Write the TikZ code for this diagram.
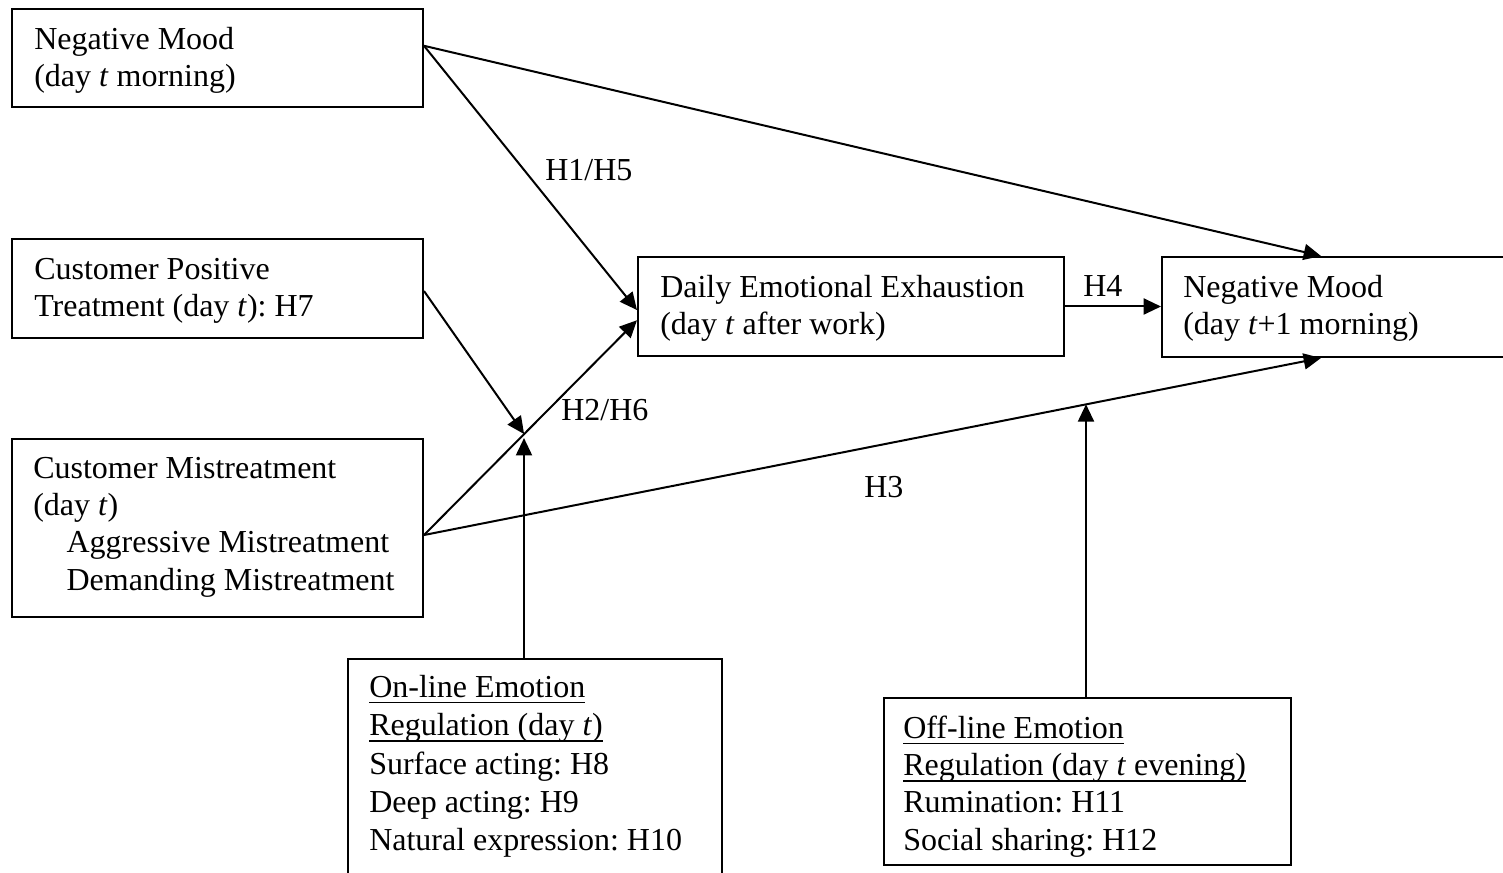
\documentclass[tikz,border=0pt]{standalone}
\usepackage{fontspec}
\setmainfont{Liberation Serif}
\frenchspacing
\usetikzlibrary{arrows.meta,calc,fit}
\newcommand\fst{\rule{0pt}{20pt}}
\newcommand\uln[1]{\leavevmode\setbox0\hbox{#1}\rlap{\rule[-4.6pt]{\wd0}{1.2pt}}\box0}
\begin{document}
\begin{tikzpicture}[x=0.75pt,y=-0.75pt,
  box/.style={draw,line width=1.5pt,inner sep=0pt},
  txt/.style={anchor=north west,inner sep=0pt,align=left,font=\fontsize{24}{28}\selectfont},
  lbl/.style={anchor=base west,inner sep=0pt,font=\fontsize{24}{28}\selectfont},
  conn/.style={line width=1.5pt},
  arr/.style={conn,-{Triangle[length=13pt,width=12pt]}}]
\useasboundingbox (0,0) rectangle (1503,873);
% boxes
\node[box,fit={(12,9)(423,107)}] (nm1) {};
\node[box,fit={(12,239)(423,338)}] (cpt) {};
\node[box,fit={(12,439)(423,617)}] (cm) {};
\node[box,fit={(638,257)(1064,356)}] (dee) {};
\node[box,fit={(1162,257)(1530,357)}] (nm2) {};
\node[box,fit={(348,659)(722,900)}] (onl) {};
\node[box,fit={(884,698)(1291,865)}] (offl) {};
% texts
\node[txt] (t1) at (34,22.3) {\fst Negative Mood\\(day \textit{t} morning)};
\node[txt] (t2) at (34,252.3) {\fst Customer Positive\\Treatment (day \textit{t}): H7};
\node[txt] (t3) at (33,451.3) {\fst Customer Mistreatment\\(day \textit{t})\\\hspace*{25pt}Aggressive Mistreatment\\\hspace*{25pt}Demanding Mistreatment};
\node[txt] (t4) at (660,270.3) {\fst Daily Emotional Exhaustion\\(day \textit{t} after work)};
\node[txt] (t5) at (1183,270.3) {\fst Negative Mood\\(day \textit{t}+1 morning)};
\node[txt,font=\fontsize{24}{28.8}\selectfont] (t6) at (369,670.3) {\fst\uln{On-line Emotion}\\\uln{Regulation (day \textit{t})}\\Surface acting: H8\\Deep acting: H9\\Natural expression: H10};
\node[txt] (t7) at (903,711.3) {\fst\uln{Off-line Emotion}\\\uln{Regulation (day \textit{t} evening)}\\Rumination: H11\\Social sharing: H12};
% connection points
\coordinate (nmo) at ($(nm1.north east)!0.378!(nm1.south east)$);
\coordinate (cpto) at ($(cpt.north east)!0.525!(cpt.south east)$);
\coordinate (cmo) at ($(cm.north east)!0.539!(cm.south east)$);
\coordinate (deea) at ($(dee.north west)!0.535!(dee.south west)$);
\coordinate (deeb) at ($(dee.north west)!0.636!(dee.south west)$);
\coordinate (nm2t) at ($(nm2.north west)+(160,0)$);
\coordinate (nm2b) at ($(nm2.south west)+(160,0)$);
\coordinate (m1) at ($(cmo)!0.47!(deeb)$);
\coordinate (m1b) at ($(m1)+(1,4)$);
\coordinate (onlt) at ($(onl.north west)+(177,0)$);
\coordinate (m2) at ($(cmo)!0.7386!(nm2b)$);
\coordinate (offt) at ($(offl.north west)+(203,0)$);
% connectors
\draw[arr] (nmo) -- (deea);
\draw[arr] (nmo) -- (nm2t);
\draw[arr] (cpto) -- (m1);
\draw[arr] (cmo) -- (deeb);
\draw[arr] (cmo) -- (nm2b);
\draw[arr] (dee.east) -- (nm2.west |- dee.east);
\draw[arr] (onlt) -- (onlt |- m1b);
\draw[arr] (offt) -- (offt |- m2);
% labels
\node[lbl] (h15) at (545,181) {H1/H5};
\node[lbl] (h26) at (561,421) {H2/H6};
\node[lbl] (h3) at (864,498) {H3};
\node[lbl] (h4) at (1083,297) {H4};
\end{tikzpicture}
\end{document}
